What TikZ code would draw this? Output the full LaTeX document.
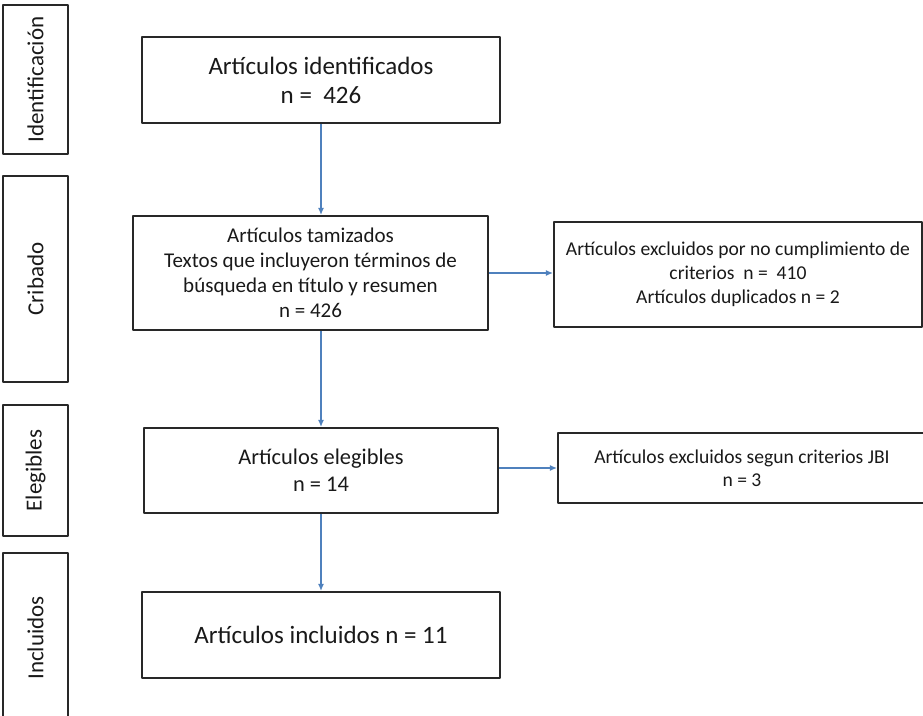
\documentclass[tikz,border=0pt]{standalone}
\usepackage{fontspec}
\setmainfont{Carlito}
\usetikzlibrary{arrows.meta}
\definecolor{flecha}{RGB}{79,129,189}
\definecolor{borde}{RGB}{40,40,40}
\begin{document}
\begin{tikzpicture}[x=1pt, y=-1pt, line join=round, >={Latex[length=7pt,width=6pt]},
	caja/.style={draw=borde, line width=2.2pt, inner sep=0pt, align=center, text=black!90},
	etapa/.style={caja, rotate=90, minimum height=65pt, font=\fontsize{23}{27}\selectfont},
	flechaazul/.style={->, draw=flecha, fill=flecha, line width=1.1pt}]
	\useasboundingbox (0,0) rectangle (923,715);
	\clip (0,0) rectangle (923,715);
	%\fill[white] (0,0) rectangle (923,715);
	\node[etapa, minimum width=149pt] (ident) at (35.5,79.5) {Identificación};
	\node[etapa, minimum width=206pt] (crib) at (35.5,279) {Cribado};
	\node[etapa, minimum width=131pt] (eleg) at (35.5,470.5) {Elegibles};
	\node[etapa, minimum width=170pt] (incl) at (35.5,638) {Incluidos};
	\node[caja, minimum width=358pt, minimum height=86pt, font=\fontsize{25}{29}\selectfont] (ident-box) at (321,80) {Artículos identificados\\n = ~426};
	\node[caja, minimum width=355pt, minimum height=114pt, font=\fontsize{21}{25}\selectfont] (tamiz) at (310.5,273) {Artículos tamizados\\Textos que incluyeron términos de\\búsqueda en título y resumen\\n = 426};
	\node[caja, minimum width=368pt, minimum height=105pt, font=\fontsize{19.6}{24}\selectfont] (excl-crit) at (738,274.5) {Artículos excluidos por no cumplimiento de\\criterios~ n = ~410\\Artículos duplicados n = 2};
	\node[caja, minimum width=354pt, minimum height=85pt, font=\fontsize{22.4}{27}\selectfont] (eleg-box) at (321,470.5) {Artículos elegibles\\n = 14};
	\node[caja, minimum width=368pt, minimum height=70pt, font=\fontsize{19.6}{23}\selectfont] (excl-jbi) at (742,468) {Artículos excluidos segun criterios JBI\\n = 3};
	\node[caja, minimum width=358pt, minimum height=86pt, font=\fontsize{25}{29}\selectfont] (incl-box) at (321,635) {Artículos incluidos n = 11};
	\draw[flechaazul] (ident-box.south) -- (ident-box.south |- tamiz.north);
	\draw[flechaazul] (eleg-box.north |- tamiz.south) -- (eleg-box.north);
	\draw[flechaazul] (eleg-box.south) -- (incl-box.north);
	\draw[flechaazul] (tamiz.east) -- (tamiz.east -| excl-crit.west);
	\draw[flechaazul] (excl-jbi.west -| eleg-box.east) -- (excl-jbi.west);
\end{tikzpicture}
\end{document}
